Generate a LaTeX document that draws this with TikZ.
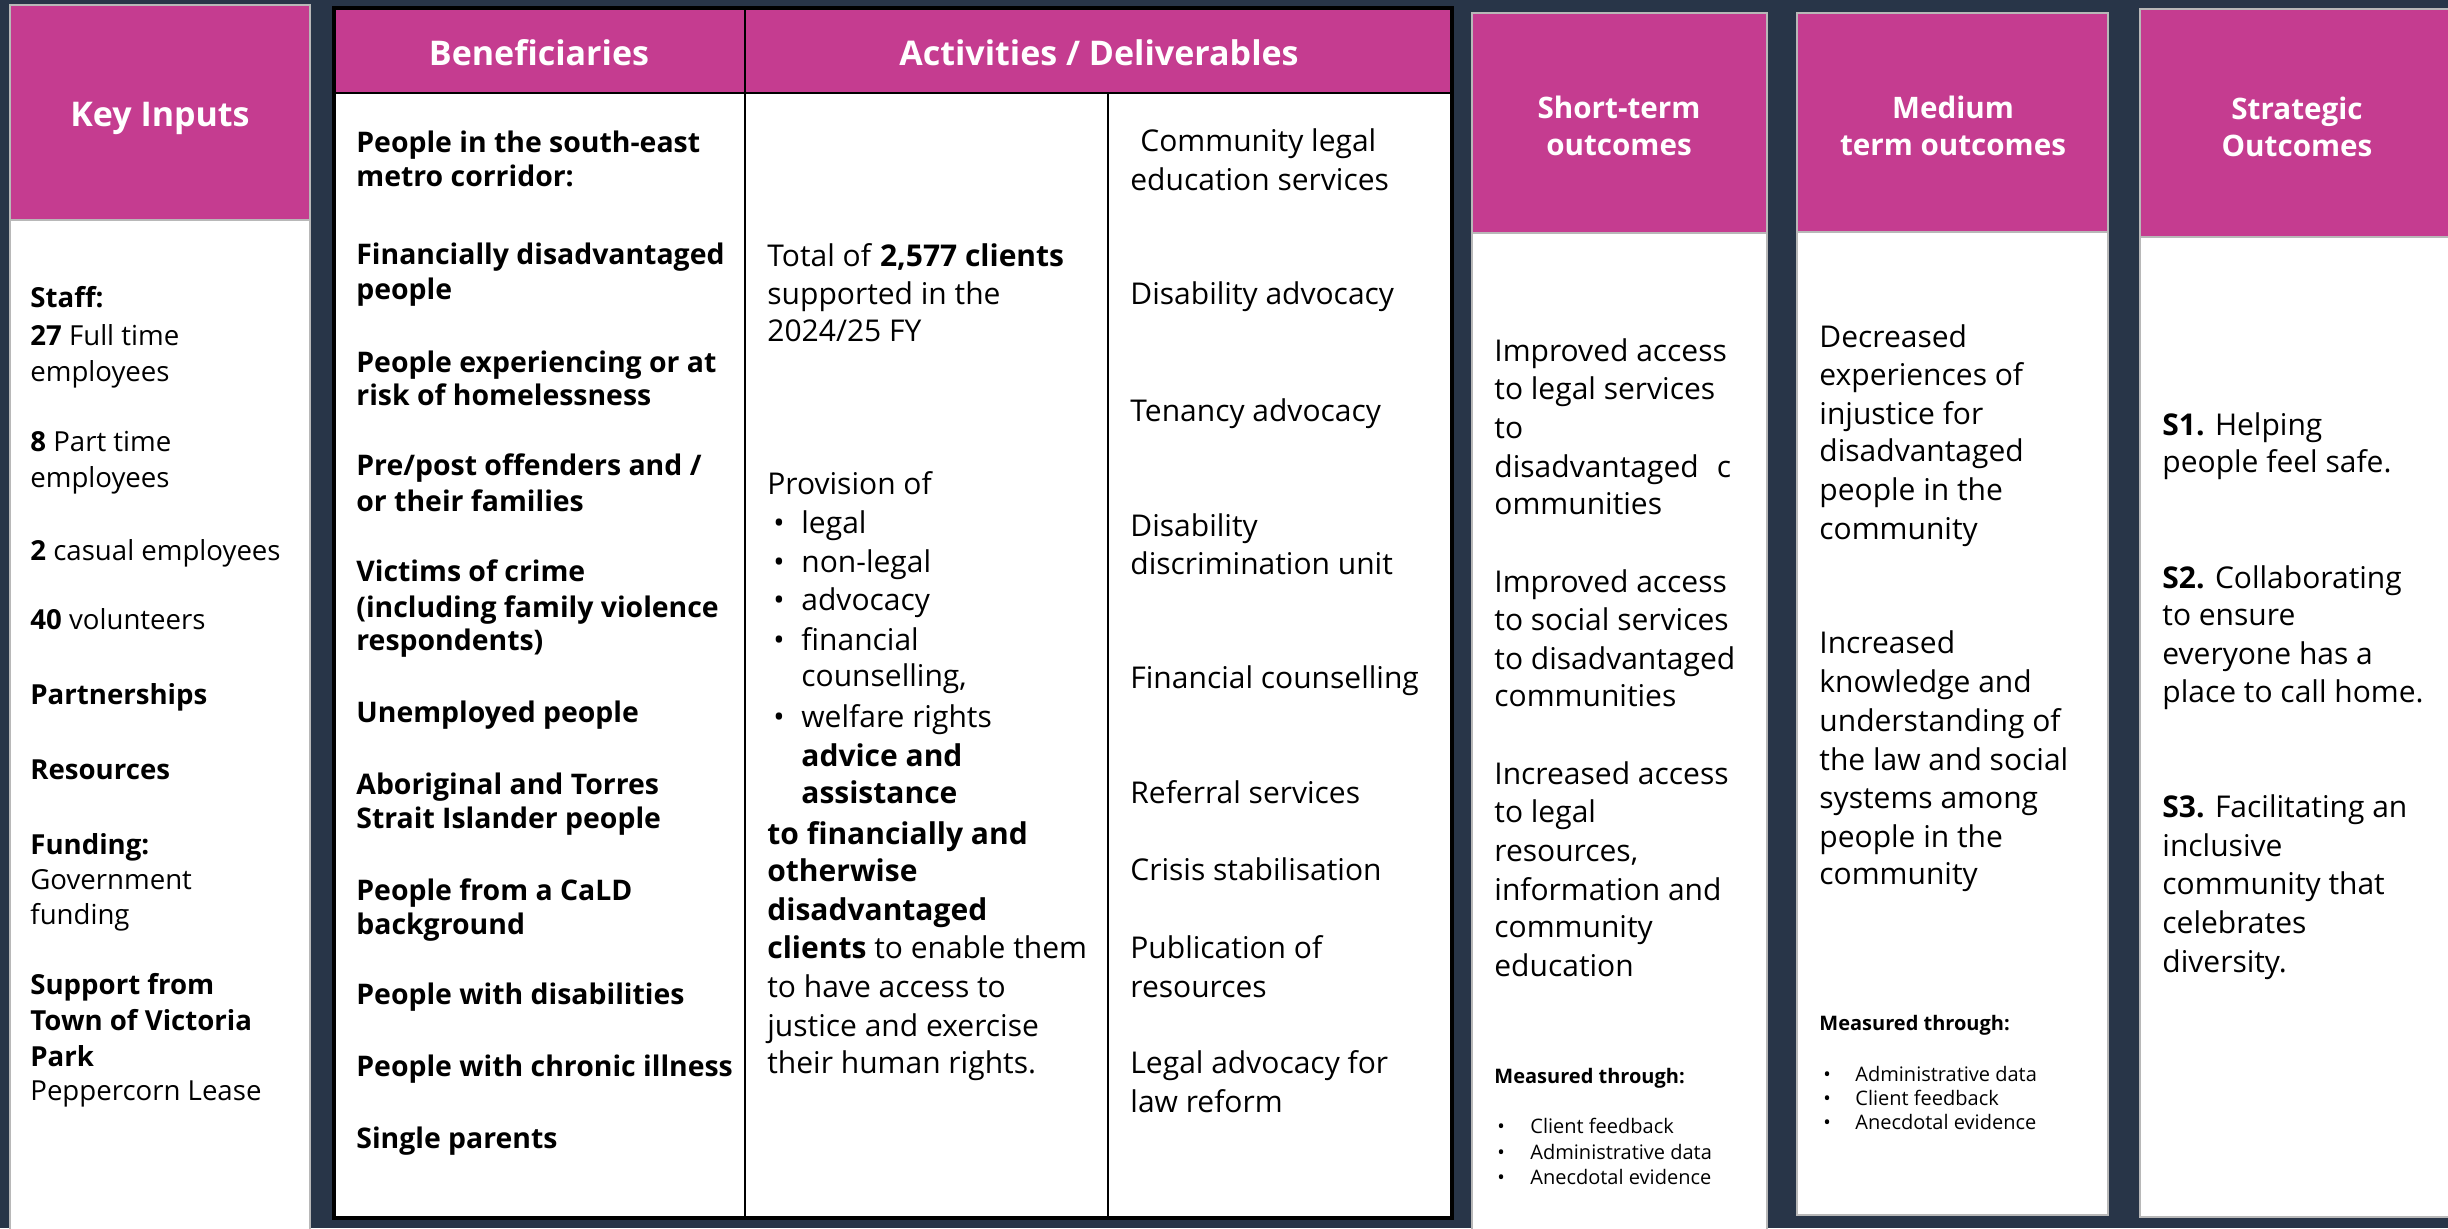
\documentclass[tikz,border=0pt]{standalone}
\usepackage{fontspec}
\setmainfont{Open Sans}
\definecolor{navy}{HTML}{283548}
\definecolor{pinkh}{HTML}{C53C90}
\definecolor{edge}{HTML}{B8B8B8}
\tikzset{
  ln/.style={anchor=west, inner sep=0pt, text height=10.5pt, text depth=0pt, font=\fontsize{15}{18}\selectfont},
  ki/.style={ln, font=\fontsize{13.8}{17}\selectfont, text height=9.7pt},
  ben/.style={ln, font=\fontsize{14.2}{17}\selectfont\bfseries, text height=10pt},
  sm/.style={ln, font=\fontsize{10}{12}\selectfont, text height=7pt},
  smb/.style={ln, font=\fontsize{10}{12}\selectfont\bfseries, text height=7pt},
  hdr/.style={text=white, align=center, inner sep=0pt, font=\fontsize{17}{20}\selectfont\bfseries},
  hdrs/.style={text=white, align=center, inner sep=0pt, font=\fontsize{14.8}{18.5}\selectfont\bfseries},
  headbox/.style={fill=pinkh, draw=edge, line width=1pt},
  bodybox/.style={fill=white, draw=edge, line width=1pt},
  rule/.style={draw=black, line width=1.2pt},
}
\begin{document}
\begin{tikzpicture}[x=0.5pt, y=-0.5pt]
\useasboundingbox (0,0) rectangle (2448,1228);
\fill[navy] (0,0) rectangle (2448,1228);

% ---------- Key Inputs column
\filldraw[bodybox] (10,220) rectangle (310,1240);
\filldraw[headbox] (10,5) rectangle (310,220);
\node[hdr] (kih) at (160,118) {Key Inputs};
\foreach \y/\t [count=\i] in {
  298/{\textbf{Staff:}},
  336/{\textbf{27} Full time},
  372/{employees},
  442/{\textbf{8} Part time},
  478/{employees},
  551/{\textbf{2} casual employees},
  620/{\textbf{40} volunteers},
  695/{\textbf{Partnerships}},
  770/{\textbf{Resources}},
  845/{\textbf{Funding:}},
  880/{Government},
  915/{funding},
  985/{\textbf{Support from}},
  1021/{\textbf{Town of Victoria}},
  1057/{\textbf{Park}},
  1091/{Peppercorn Lease}}
  \node[ki] (ki-\i) at (30,\y) {\t};

% ---------- Beneficiaries / Activities table
\fill[white] (334,8) rectangle (1452,1218);
\fill[pinkh] (334,8) rectangle (1452,93);
\draw[rule] (334,93) -- (1452,93);
\draw[rule] (745,8) -- (745,1218);
\draw[rule] (1108,93) -- (1108,1218);
\draw[draw=black, line width=2pt] (334,8) rectangle (1452,1218);
\node[hdr] (benh) at (539,53) {Beneficiaries};
\node[hdr] (acth) at (1099,53) {Activities / Deliverables};

\foreach \y/\t [count=\i] in {
  142/{People in the south-east},
  176/{metro corridor:},
  254/{Financially disadvantaged},
  289/{people},
  362/{People experiencing or at},
  395/{risk of homelessness},
  465/{Pre/post offenders and /},
  501/{or their families},
  571/{Victims of crime},
  607/{(including family violence},
  640/{respondents)},
  712/{Unemployed people},
  784/{Aboriginal and Torres},
  818/{Strait Islander people},
  890/{People from a CaLD},
  924/{background},
  994/{People with disabilities},
  1066/{People with chronic illness},
  1138/{Single parents}}
  \node[ben] (ben-\i) at (356,\y) {\t};

\foreach \x/\y/\t [count=\i] in {
  767/256/{Total of \textbf{2,577 clients}},
  767/294/{supported in the},
  767/331/{2024/25 FY},
  767/484/{Provision of},
  801/523/{legal},
  801/562/{non-legal},
  801/600/{advocacy},
  801/640/{financial},
  801/676/{counselling,},
  801/717/{welfare rights},
  801/756/{\textbf{advice and}},
  801/793/{\textbf{assistance}},
  767/834/{\textbf{to financially and}},
  767/871/{\textbf{otherwise}},
  767/910/{\textbf{disadvantaged}},
  767/948/{\textbf{clients} to enable them},
  767/987/{to have access to},
  767/1026/{justice and exercise},
  767/1063/{their human rights.}}
  \node[ln] (act-\i) at (\x,\y) {\t};
\foreach \y [count=\i] in {523,562,600,640,717}
  \node[ln] (actb-\i) at (773,\y) {\textbullet};

\foreach \x/\y/\t [count=\i] in {
  1140/141/{Community legal},
  1130/180/{education services},
  1130/294/{Disability advocacy},
  1130/411/{Tenancy advocacy},
  1130/526/{Disability},
  1130/564/{discrimination unit},
  1130/678/{Financial counselling},
  1130/793/{Referral services},
  1130/870/{Crisis stabilisation},
  1130/948/{Publication of},
  1130/987/{resources},
  1130/1063/{Legal advocacy for},
  1130/1102/{law reform}}
  \node[ln] (del-\i) at (\x,\y) {\t};

% ---------- Short-term outcomes
\filldraw[bodybox] (1472,233) rectangle (1767,1240);
\filldraw[headbox] (1472,13) rectangle (1767,233);
\node[hdrs] (sth) at (1619,126) {Short-term\\outcomes};
\foreach \y/\t [count=\i] in {
  351/{Improved access},
  389/{to legal services},
  428/{to},
  467/{disadvantaged\hspace{9pt}c},
  504/{ommunities},
  582/{Improved access},
  620/{to social services},
  659/{to disadvantaged},
  696/{communities},
  774/{Increased access},
  812/{to legal},
  851/{resources,},
  890/{information and},
  927/{community},
  966/{education}}
  \node[ln] (st-\i) at (1494,\y) {\t};
\node[smb] (stm) at (1494,1076) {Measured through:};
\foreach \y/\t [count=\i] in {1126/{Client feedback},1152/{Administrative data},1177/{Anecdotal evidence}}{
  \node[sm] (stb-\i) at (1497,\y) {\textbullet};
  \node[sm] (stt-\i) at (1530,\y) {\t};
}

% ---------- Medium term outcomes
\filldraw[bodybox] (1797,232) rectangle (2108,1215);
\filldraw[headbox] (1797,13) rectangle (2108,232);
\node[hdrs] (mdh) at (1953,126) {Medium\\term outcomes};
\foreach \y/\t [count=\i] in {
  337/{Decreased},
  375/{experiences of},
  414/{injustice for},
  451/{disadvantaged},
  490/{people in the},
  529/{community},
  643/{Increased},
  682/{knowledge and},
  721/{understanding of},
  760/{the law and social},
  798/{systems among},
  837/{people in the},
  874/{community}}
  \node[ln] (md-\i) at (1819,\y) {\t};
\node[smb] (mdm) at (1819,1023) {Measured through:};
\foreach \y/\t [count=\i] in {1074/{Administrative data},1098/{Client feedback},1122/{Anecdotal evidence}}{
  \node[sm] (mdb-\i) at (1823,\y) {\textbullet};
  \node[sm] (mdt-\i) at (1855,\y) {\t};
}

% ---------- Strategic outcomes
\filldraw[bodybox] (2140,237) rectangle (2470,1217);
\filldraw[headbox] (2140,9) rectangle (2470,237);
\node[hdrs] (sgh) at (2297,127) {Strategic\\Outcomes};
\foreach \y/\t [count=\i] in {
  425/{\textbf{S1.} Helping},
  462/{people feel safe.},
  578/{\textbf{S2.} Collaborating},
  615/{to ensure},
  654/{everyone has a},
  692/{place to call home.},
  807/{\textbf{S3.} Facilitating an},
  846/{inclusive},
  884/{community that},
  923/{celebrates},
  962/{diversity.}}
  \node[ln] (sg-\i) at (2162,\y) {\t};
\end{tikzpicture}
\end{document}
